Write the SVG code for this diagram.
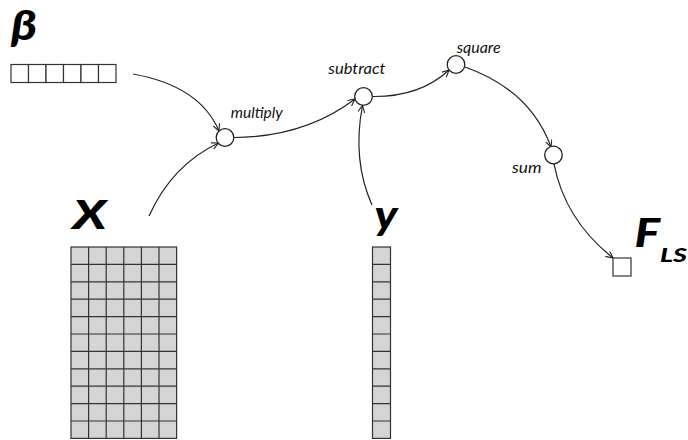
<svg xmlns="http://www.w3.org/2000/svg" width="688" height="440" viewBox="0 0 688 440">
<defs>
<style>
.bg{fill:#ffffff}
.cell{fill:#d4d4d4;stroke:#333333;stroke-width:1.2}
.wcell{fill:#ffffff;stroke:#333333;stroke-width:1.2}
.op{fill:#ffffff;stroke:#222222;stroke-width:1.3}
.edge{fill:none;stroke:#222222;stroke-width:1.2;marker-end:url(#arr)}
.big{font-family:Lato,"DejaVu Sans",sans-serif;font-weight:900;font-style:italic;font-size:40px;fill:#000}
.sub{font-family:Lato,"DejaVu Sans",sans-serif;font-weight:900;font-style:italic;font-size:18px;fill:#000}
.lbl{font-family:Lato,"Open Sans",sans-serif;font-style:italic;font-size:15px;fill:#111}
</style>
<marker id="arr" markerUnits="userSpaceOnUse" markerWidth="8" markerHeight="8" refX="7" refY="3.5" orient="auto">
<path d="M0,0 L7,3.5 L0,7" fill="none" stroke="#222222" stroke-width="1.1"/>
</marker>
</defs>
<rect class="bg" x="0" y="0" width="688" height="440"/>

<g id="edges">
<path class="edge" d="M133,74 Q200,86 219,131"/>
<path class="edge" d="M149,216 Q172,165 218.5,143"/>
<path class="edge" d="M234,137.5 Q305,137 355,99"/>
<path class="edge" d="M372,205 Q352,160 362.5,105.5"/>
<path class="edge" d="M372.5,96.5 Q420,97 449,70"/>
<path class="edge" d="M465,67 Q530,90 551,147"/>
<path class="edge" d="M554,164 Q565,220 613,258"/>
</g>

<g id="beta">
<text class="big" x="11" y="40" style="font-size:42px" textLength="26" lengthAdjust="spacingAndGlyphs">β</text>
<rect class="wcell" x="11" y="64.5" width="17.5" height="18"/>
<rect class="wcell" x="28.5" y="64.5" width="17.5" height="18"/>
<rect class="wcell" x="46" y="64.5" width="17.5" height="18"/>
<rect class="wcell" x="63.5" y="64.5" width="17.5" height="18"/>
<rect class="wcell" x="81" y="64.5" width="17.5" height="18"/>
<rect class="wcell" x="98.5" y="64.5" width="17.5" height="18"/>
</g>

<g id="X">
<text class="big" x="72.5" y="228.5" textLength="34" lengthAdjust="spacingAndGlyphs">X</text>
<g>
<rect class="cell" x="71" y="247" width="105.6" height="191.4"/>
<path d="M88.6,247V438.4M106.2,247V438.4M123.8,247V438.4M141.4,247V438.4M159,247V438.4
M71,264.4H176.6M71,281.8H176.6M71,299.2H176.6M71,316.6H176.6M71,334H176.6M71,351.4H176.6M71,368.8H176.6M71,386.2H176.6M71,403.6H176.6M71,421H176.6" fill="none" stroke="#333333" stroke-width="1.2"/>
</g>
</g>

<g id="y">
<text class="big" x="374.5" y="228.5" textLength="23" lengthAdjust="spacingAndGlyphs">y</text>
<rect class="cell" x="372.5" y="247" width="18" height="191.4"/>
<path d="M372.5,264.4H390.5M372.5,281.8H390.5M372.5,299.2H390.5M372.5,316.6H390.5M372.5,334H390.5M372.5,351.4H390.5M372.5,368.8H390.5M372.5,386.2H390.5M372.5,403.6H390.5M372.5,421H390.5" fill="none" stroke="#333333" stroke-width="1.2"/>
</g>

<g id="multiply">
<circle class="op" cx="225" cy="137.5" r="8.8"/>
<text class="lbl" x="230.7" y="117.7" textLength="52" lengthAdjust="spacingAndGlyphs">multiply</text>
</g>
<g id="subtract">
<circle class="op" cx="363.5" cy="96.5" r="8.8"/>
<text class="lbl" x="328.3" y="74.3" textLength="57" lengthAdjust="spacingAndGlyphs">subtract</text>
</g>
<g id="square">
<circle class="op" cx="456" cy="64.5" r="8.8"/>
<text class="lbl" x="456.7" y="52.7" textLength="44" lengthAdjust="spacingAndGlyphs">square</text>
</g>
<g id="sum">
<circle class="op" cx="553.5" cy="155" r="8.8"/>
<text class="lbl" x="512" y="172.7" textLength="29.5" lengthAdjust="spacingAndGlyphs">sum</text>
</g>

<g id="FLS">
<rect class="wcell" x="613" y="258" width="18" height="18"/>
<text class="big" x="634.5" y="246.7" textLength="25.5" lengthAdjust="spacingAndGlyphs">F</text>
<text class="sub" x="660" y="261.7" textLength="27" lengthAdjust="spacingAndGlyphs">LS</text>
</g>
</svg>
